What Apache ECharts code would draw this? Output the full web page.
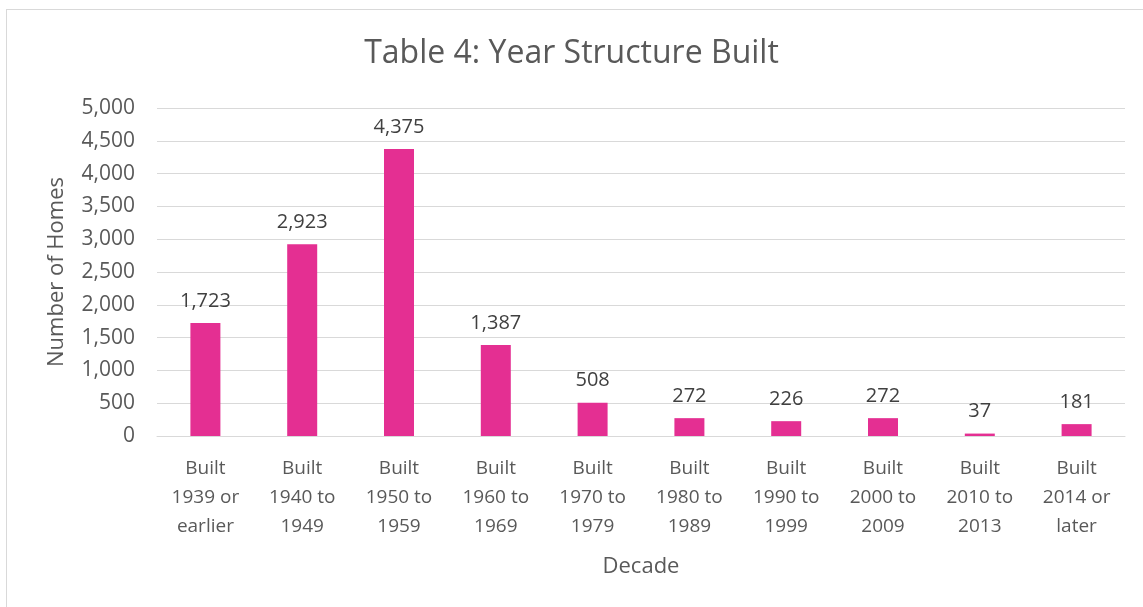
<!DOCTYPE html>
<html>
<head>
<meta charset="utf-8">
<script src="https://cdn.jsdelivr.net/npm/echarts@6/dist/echarts.min.js"></script>
<style>
  html, body { margin: 0; padding: 0; background: #fff; }
  #year-built { width: 1143px; height: 607px; }
  #frame { position: absolute; left: 6px; top: 9px; width: 1140px; height: 600px; border: 1px solid #d9d9d9; box-sizing: border-box; pointer-events: none; }
</style>
</head>
<body>
<div id="year-built"></div>
<div id="frame"></div>
<script>
// 建造年份
const categories = [
  "Built\n1939 or\nearlier", "Built\n1940 to\n1949", "Built\n1950 to\n1959",
  "Built\n1960 to\n1969", "Built\n1970 to\n1979", "Built\n1980 to\n1989",
  "Built\n1990 to\n1999", "Built\n2000 to\n2009", "Built\n2010 to\n2013",
  "Built\n2014 or\nlater"
];
const homes = [1723, 2923, 4375, 1387, 508, 272, 226, 272, 37, 181];

const fontFamily = "'Open Sans', 'Liberation Sans', sans-serif";
const textColor = "#595959";

const chart = echarts.init(document.getElementById("year-built"));

const fmt = v => Number(v).toLocaleString("en-US");

let option = {
  animation: false,
  textStyle: { fontFamily: fontFamily },
  title: {
    text: "Table 4: Year Structure Built",
    left: "center",
    top: 33,
    textStyle: { color: textColor, fontSize: 32, fontWeight: "normal", fontFamily: fontFamily }
  },
  grid: {
    left: 157,
    right: 18,
    top: 108,
    bottom: 171
  },
  xAxis: {
    type: "category",
    data: categories,
    name: "Decade",
    nameLocation: "middle",
    nameGap: 120,
    nameTextStyle: { color: textColor, fontSize: 22 },
    axisLine: { show: true, lineStyle: { color: "#d9d9d9", width: 1 } },
    axisTick: { show: false },
    axisLabel: { color: textColor, fontSize: 19, lineHeight: 29, margin: 18, interval: 0 }
  },
  yAxis: {
    type: "value",
    min: 0,
    max: 5000,
    interval: 500,
    name: "Number of Homes",
    nameLocation: "middle",
    nameGap: 89,
    nameTextStyle: { color: textColor, fontSize: 22 },
    axisLine: { show: false },
    axisTick: { show: false },
    axisLabel: { color: textColor, fontSize: 21, margin: 22, formatter: fmt },
    splitLine: { lineStyle: { color: "#d9d9d9", width: 1 } }
  },
  series: [
    {
      name: "Number of Homes",
      type: "bar",
      data: homes,
      barWidth: 30,
      itemStyle: { color: "#e42f92" },
      label: {
        show: true,
        position: "top",
        distance: 12,
        color: "#404040",
        fontSize: 20,
        formatter: p => fmt(p.value)
      }
    }
  ]
};

chart.setOption(option);
</script>
</body>
</html>
